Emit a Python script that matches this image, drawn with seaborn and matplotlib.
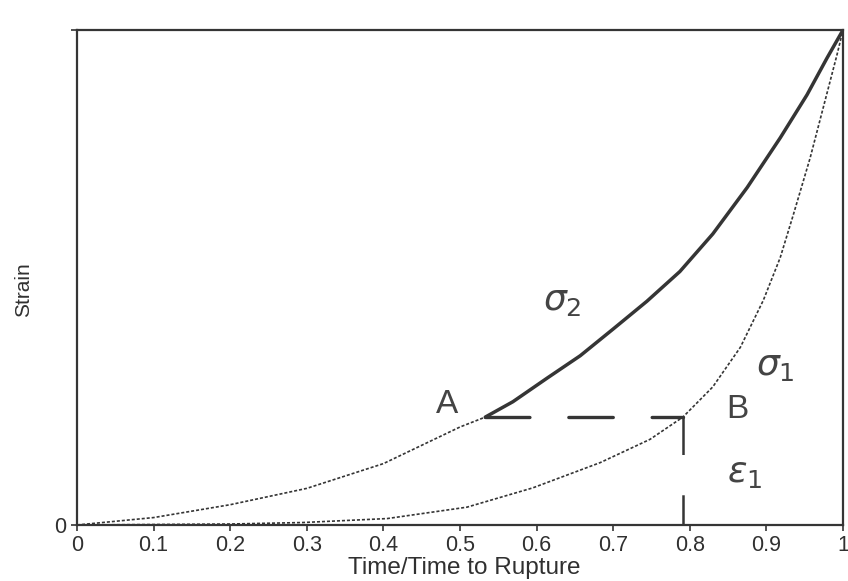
import matplotlib
matplotlib.use("Agg")
import matplotlib.pyplot as plt
import seaborn as sns
import pandas as pd

# ---- data ----
time_s2 = [0.0, 0.1, 0.2, 0.3, 0.4, 0.5, 0.533, 0.569, 0.614, 0.657, 0.700, 0.744,
           0.787, 0.830, 0.875, 0.918, 0.953, 0.979, 1.0]
strain_s2 = [0.0, 0.015, 0.041, 0.074, 0.124, 0.198, 0.218, 0.249, 0.297, 0.342, 0.396,
             0.452, 0.512, 0.588, 0.682, 0.782, 0.869, 0.943, 1.0]
time_s1 = [0.0, 0.1, 0.2, 0.295, 0.405, 0.509, 0.595, 0.683, 0.748, 0.791, 0.830, 0.866,
           0.896, 0.918, 0.935, 0.957, 0.974, 0.992, 1.0]
strain_s1 = [0.0, 0.001, 0.002, 0.005, 0.013, 0.036, 0.075, 0.126, 0.173, 0.218, 0.279,
             0.359, 0.454, 0.540, 0.626, 0.741, 0.842, 0.949, 1.0]
point_A_time = 0.533
point_B_time = 0.791
eps1 = 0.218
x_ticks = [0, 0.1, 0.2, 0.3, 0.4, 0.5, 0.6, 0.7, 0.8, 0.9, 1.0]
x_tick_labels = ["0", "0.1", "0.2", "0.3", "0.4", "0.5", "0.6", "0.7", "0.8", "0.9", "1"]
y_ticks = [0, 1]
y_tick_labels = ["0", ""]

sns.set_theme(style="ticks")
plt.rcParams["font.family"] = ["Liberation Sans", "DejaVu Sans"]
plt.rcParams["lines.scale_dashes"] = False
plt.rcParams["mathtext.fontset"] = "dejavusans"

ink = "#353535"

fig = plt.figure(figsize=(8.48, 5.81), dpi=100)
ax = fig.add_axes([77 / 848, 56 / 581, 766 / 848, 495 / 581])

df2 = pd.DataFrame({"t": time_s2, "e": strain_s2})
df1 = pd.DataFrame({"t": time_s1, "e": strain_s1})
low2 = df2[df2["t"] <= point_A_time]
high2 = df2[df2["t"] >= point_A_time]

dot = (0, (2.2, 1.4))
sns.lineplot(data=low2, x="t", y="e", ax=ax, color=ink, linewidth=1.2,
             linestyle=dot, estimator=None, sort=False)
sns.lineplot(data=df1, x="t", y="e", ax=ax, color=ink, linewidth=1.2,
             linestyle=dot, estimator=None, sort=False)
sns.lineplot(data=high2, x="t", y="e", ax=ax, color=ink, linewidth=2.5,
             estimator=None, sort=False, solid_joinstyle="round")

# A-B horizontal dashed line and vertical line down from B
ax.plot([point_A_time, point_B_time], [eps1, eps1], color=ink, linewidth=2.4,
        linestyle=(0, (32, 28)), dash_capstyle="round")
ax.plot([point_B_time, point_B_time], [eps1, 0], color=ink, linewidth=1.8,
        linestyle=(0, (27, 29)), dash_capstyle="butt")

ax.set_xlim(0, 1)
ax.set_ylim(0, 1)
ax.set_xticks(x_ticks)
ax.set_xticklabels(x_tick_labels)
ax.set_yticks(y_ticks)
ax.set_yticklabels(y_tick_labels)
ax.tick_params(axis="both", direction="out", length=4.5, width=1.2, colors=ink,
               labelsize=15.5, pad=3)
for lab in ax.get_xticklabels() + ax.get_yticklabels():
    lab.set_family(["Liberation Sans Narrow", "Liberation Sans", "DejaVu Sans"])
    lab.set_color("#303030")

for s in ax.spines.values():
    s.set_visible(True)
    s.set_linewidth(1.6)
    s.set_color(ink)

ax.set_xlabel("Time/Time to Rupture", fontsize=17.5, color="#303030")
ax.set_ylabel("Strain", fontsize=15, color="#303030")
ax.xaxis.set_label_coords(0.505, -0.064)
ax.yaxis.set_label_coords(-0.058, 0.475)

hand = dict(color="#444444", ha="center", va="center", fontweight="light")
ax.text(0.483, 0.244, "A", fontsize=24, **hand)
ax.text(0.862, 0.234, "B", fontsize=24, **hand)
ax.text(0.634, 0.454, r"$\sigma_2$", fontsize=26, **hand)
ax.text(0.911, 0.323, r"$\sigma_1$", fontsize=26, **hand)
ax.text(0.872, 0.107, r"$\varepsilon_1$", fontsize=26, **hand)

ax.set_facecolor("white")
fig.patch.set_facecolor("white")
fig.savefig("out.png", dpi=100)
